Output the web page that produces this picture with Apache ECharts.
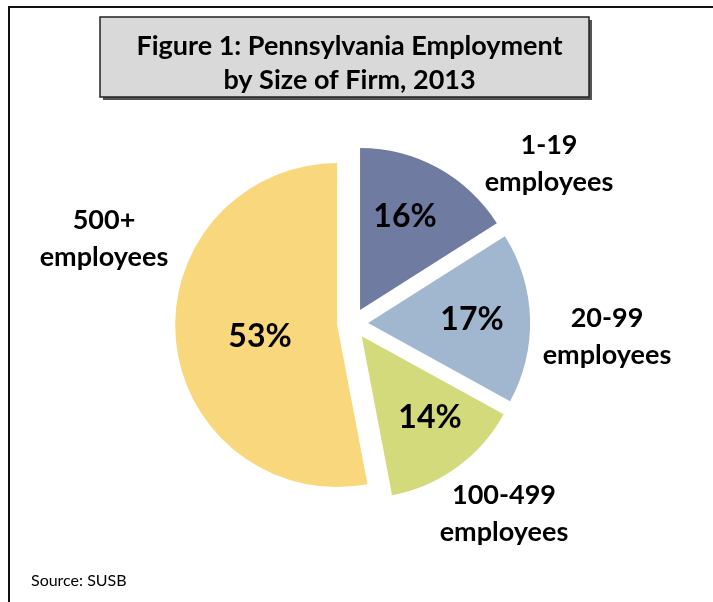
<!DOCTYPE html>
<html>
<head>
<meta charset="utf-8">
<script src="https://cdn.jsdelivr.net/npm/echarts@6/dist/echarts.min.js"></script>
<style>
html,body{margin:0;padding:0;background:#fff;}
#chart{width:713px;height:602px;}
</style>
</head>
<body>
<div id="chart"></div>
<script>
// Data
const categories = ['1-19 employees', '20-99 employees', '100-499 employees', '500+ employees'];
const outerLabels = ['1-19\nemployees', '20-99\nemployees', '100-499\nemployees', '500+\nemployees'];
const shares = [16, 17, 14, 53];
const colors = ['#707ba2', '#a1b7cf', '#d3da7b', '#f9d87d'];
const titleText = 'Figure 1: Pennsylvania Employment\nby Size of Firm, 2013';
const sourceText = 'Source: SUSB';

// Label placement (text positions)
const innerPos = [[405, 217], [472, 320], [430, 418], [260, 337]];
const outerPos = [[549, 164], [607, 337], [504, 514], [104, 239]];

const FONT = 'Lato, "Open Sans", sans-serif';
const chart = echarts.init(document.getElementById('chart'));

const pieCenter = [352.6, 323.6];
const pieRadius = 162;

function labelSeries(formatter, style, pos) {
  return {
    type: 'pie',
    center: pieCenter,
    radius: pieRadius,
    startAngle: 90,
    clockwise: true,
    silent: true,
    avoidLabelOverlap: false,
    emphasis: { disabled: true },
    itemStyle: { color: 'rgba(0,0,0,0)', borderWidth: 0 },
    label: Object.assign({ show: true, position: 'outside', formatter: formatter, color: '#000', align: 'center' }, style),
    labelLine: { show: false },
    labelLayout: p => ({ x: pos[p.dataIndex][0], y: pos[p.dataIndex][1], align: 'center', verticalAlign: 'middle' }),
    data: categories.map((c, i) => ({ name: c, value: shares[i] }))
  };
}

chart.setOption({
  animation: false,
  graphic: [
    { type: 'rect', shape: { x: 9, y: 7, width: 720, height: 620 }, style: { fill: 'none', stroke: '#111', lineWidth: 2 }, z: 0 },
    { type: 'rect', shape: { x: 103, y: 20, width: 489, height: 80 }, style: { fill: '#555' }, z: 1 },
    { type: 'rect', shape: { x: 100, y: 17, width: 489, height: 80 }, style: { fill: '#d9d9d9', stroke: '#222', lineWidth: 1.5 }, z: 2 }
  ],
  title: [
    {
      text: titleText,
      left: 344.5, top: 58, textAlign: 'center', textVerticalAlign: 'middle',
      textStyle: { fontFamily: FONT, fontWeight: 'bold', fontSize: 27, lineHeight: 34, color: '#000' },
      z: 5
    },
    {
      text: sourceText,
      left: 26, top: 568,
      textStyle: { fontFamily: FONT, fontWeight: 'normal', fontSize: 16, color: '#000' }
    }
  ],
  series: [
    {
      type: 'pie',
      center: pieCenter,
      radius: pieRadius,
      startAngle: 90,
      clockwise: true,
      selectedMode: 'multiple',
      selectedOffset: 15.5,
      avoidLabelOverlap: false,
      emphasis: { disabled: true },
      silent: true,
      itemStyle: { borderWidth: 0 },
      label: { show: false },
      labelLine: { show: false },
      data: categories.map((c, i) => ({ name: c, value: shares[i], selected: true, itemStyle: { color: colors[i] } }))
    },
    labelSeries(p => shares[p.dataIndex] + '%', { fontFamily: FONT, fontWeight: 'bold', fontSize: 32 }, innerPos),
    labelSeries(p => outerLabels[p.dataIndex], { fontFamily: FONT, fontWeight: 'bold', fontSize: 27, lineHeight: 37 }, outerPos)
  ]
});
</script>
</body>
</html>
